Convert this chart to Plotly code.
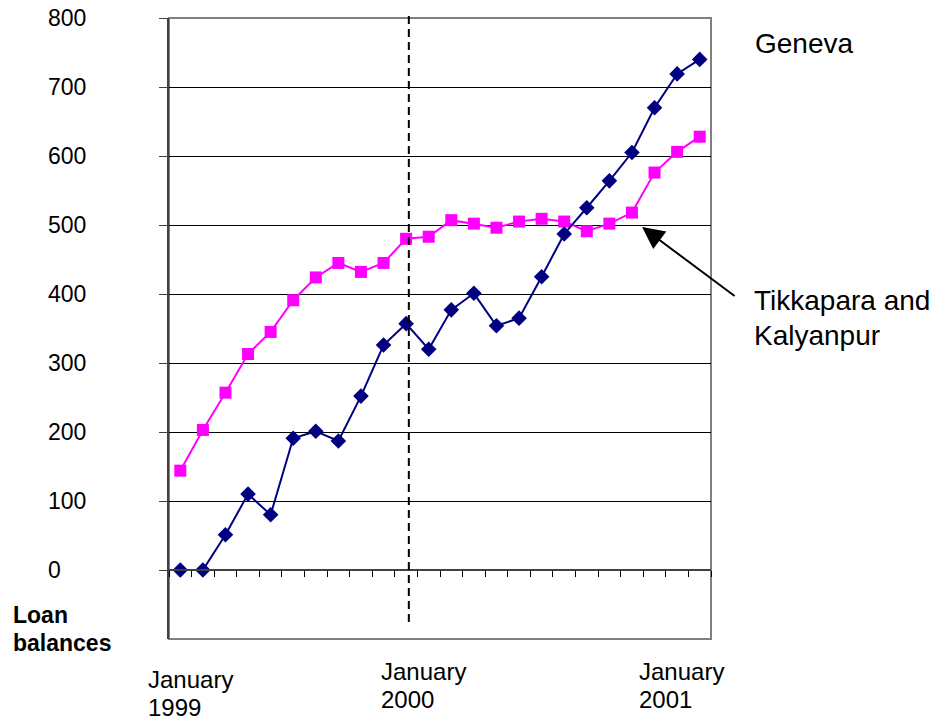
import plotly.graph_objects as go

# ---- data ----
months = [f"{m} {y}" for y in (1999, 2000) for m in
          ["Jan", "Feb", "Mar", "Apr", "May", "Jun", "Jul", "Aug", "Sep", "Oct", "Nov", "Dec"]]
geneva = [0, 0, 51, 110, 80, 191, 201, 187, 252, 326, 357, 320,
          377, 401, 354, 365, 425, 487, 525, 564, 605, 670, 719, 740]
tikkapara = [144, 203, 257, 313, 345, 391, 424, 445, 432, 445, 480, 483,
             507, 502, 496, 505, 509, 505, 491, 502, 518, 576, 606, 628]
y_ticks = [0, 100, 200, 300, 400, 500, 600, 700, 800]
x_labels = [("January", "1999"), ("January", "2000"), ("January", "2001")]

W, H = 941, 727
OFF = 8  # page offset of the figure in the browser
L, T = 169 - OFF, 18 - OFF
R = W - (711 - OFF)
B = H - (639 - OFF)
PW, PH = W - L - R, H - T - B

def px(x):  # page pixel -> paper x
    return (x - OFF - L) / PW

def py(y):  # page pixel -> paper y
    return (H - B - (y - OFF)) / PH

FONT = "Arial, Liberation Sans, sans-serif"
idx = list(range(len(months)))

fig = go.Figure()
fig.add_trace(go.Scatter(
    x=idx, y=tikkapara, mode="lines+markers", name="Tikkapara and Kalyanpur",
    line=dict(color="#FF00FF", width=2),
    marker=dict(symbol="square", size=12, color="#FF00FF"),
    text=months, hovertemplate="%{text}: %{y}<extra></extra>"))
fig.add_trace(go.Scatter(
    x=idx, y=geneva, mode="lines+markers", name="Geneva",
    line=dict(color="#000080", width=2),
    marker=dict(symbol="diamond", size=12, color="#000080"),
    text=months, hovertemplate="%{text}: %{y}<extra></extra>"))
# empty trace to carry the zero-line axis with month ticks
fig.add_trace(go.Scatter(x=[], y=[], xaxis="x2", showlegend=False, hoverinfo="skip"))

n = len(months)
boundaries = [i - 0.5 for i in range(n + 1)]

annotations = []
for v in y_ticks:
    annotations.append(dict(text=str(v), xref="paper", yref="y", x=px(46), y=v,
                             xanchor="left", yanchor="middle", showarrow=False,
                             font=dict(size=23, family=FONT, color="black")))
annotations += [
    dict(text="<b>Loan</b>", xref="paper", yref="paper", x=px(11), y=py(600),
         xanchor="left", yanchor="top", showarrow=False,
         font=dict(size=23, family=FONT, color="black")),
    dict(text="<b>balances</b>", xref="paper", yref="paper", x=px(11), y=py(628),
         xanchor="left", yanchor="top", showarrow=False,
         font=dict(size=23, family=FONT, color="black")),
]
xl_pos = [(146, 664), (379, 656), (637, 656)]
for (l1, l2), (xx, yy) in zip(x_labels, xl_pos):
    annotations.append(dict(text=l1, xref="paper", yref="paper", x=px(xx), y=py(yy),
                            xanchor="left", yanchor="top", showarrow=False,
                            font=dict(size=24, family=FONT, color="black")))
    annotations.append(dict(text=l2, xref="paper", yref="paper", x=px(xx), y=py(yy + 28),
                            xanchor="left", yanchor="top", showarrow=False,
                            font=dict(size=24, family=FONT, color="black")))
annotations += [
    dict(text="Geneva", xref="paper", yref="paper", x=px(753), y=py(26),
         xanchor="left", yanchor="top", showarrow=False,
         font=dict(size=28, family=FONT, color="black")),
    dict(text="Tikkapara and", xref="paper", yref="paper", x=px(752), y=py(283),
         xanchor="left", yanchor="top", showarrow=False,
         font=dict(size=28, family=FONT, color="black")),
    dict(text="Kalyanpur", xref="paper", yref="paper", x=px(752), y=py(318),
         xanchor="left", yanchor="top", showarrow=False,
         font=dict(size=28, family=FONT, color="black")),
    dict(text="", xref="x2", yref="y", x=20.45, y=497, ax=94, ay=70,
         showarrow=True, arrowhead=2, arrowsize=2.2, arrowwidth=2, arrowcolor="black"),
]

shapes = [
    dict(type="rect", xref="paper", yref="paper", x0=0, x1=1, y0=0, y1=1,
         line=dict(color="#808080", width=2), layer="below"),
    dict(type="line", xref="x2", yref="paper", x0=10.12, x1=10.12,
         y0=py(622), y1=py(13), line=dict(color="black", width=2, dash="8px,5px")),
]

fig.update_layout(
    width=W, height=H, autosize=False,
    margin=dict(l=L, r=R, t=T, b=B),
    paper_bgcolor="white", plot_bgcolor="white",
    showlegend=False,
    xaxis=dict(range=[-0.5, n - 0.5], showgrid=False, zeroline=False,
               showline=False, ticks="", showticklabels=False),
    xaxis2=dict(overlaying="x", anchor="free", position=100 / 900,
                range=[-0.5, n - 0.5], showgrid=False, zeroline=False,
                showline=True, linecolor="#404040", linewidth=1.5,
                ticks="outside", ticklen=6, tickwidth=1.2, tickcolor="black",
                tickvals=boundaries, showticklabels=False),
    yaxis=dict(range=[-100, 800], tickvals=y_ticks, showticklabels=False,
               ticks="outside", ticklen=8, tickcolor="#404040", tickwidth=1,
               showgrid=True, gridcolor="black", gridwidth=1, zeroline=False,
               showline=True, linecolor="#404040", linewidth=2),
    annotations=annotations,
    shapes=shapes,
    font=dict(family=FONT, color="black"),
)

fig.write_html("out.html")
